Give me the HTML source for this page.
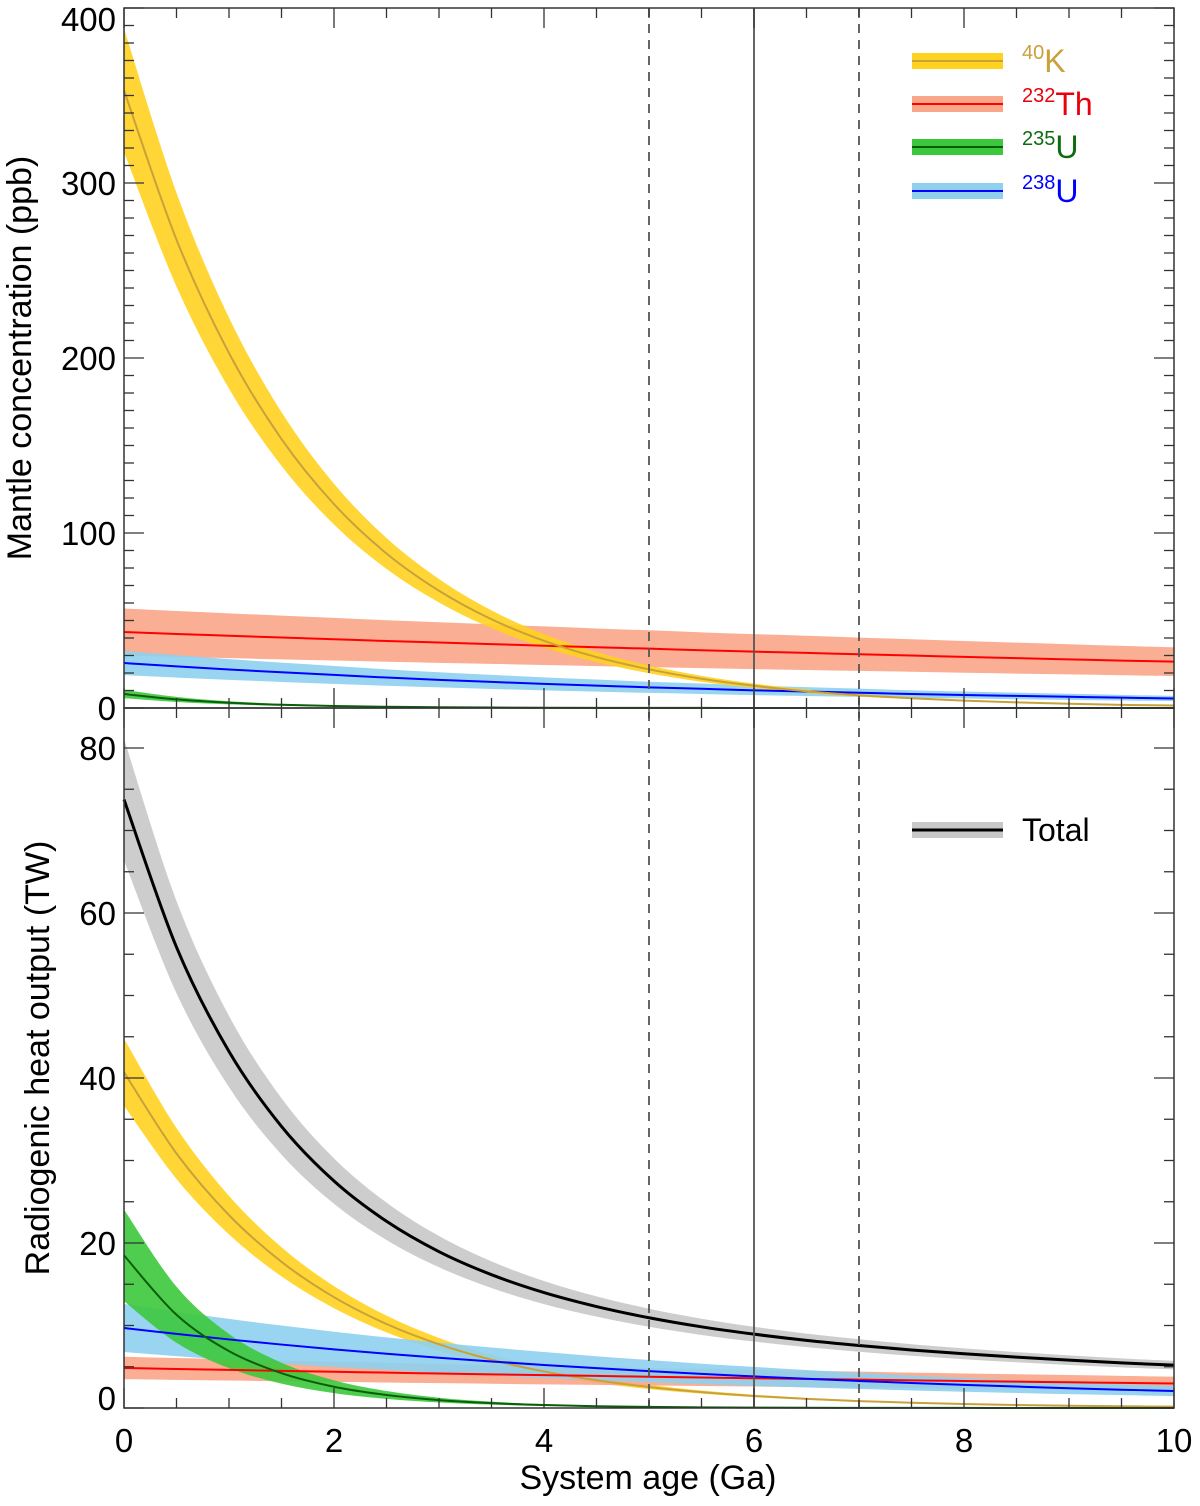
<!DOCTYPE html>
<html><head><meta charset="utf-8"><style>
html,body{margin:0;padding:0;background:#fff;}
svg{display:block;font-family:"Liberation Sans",Arial,sans-serif;}
</style></head><body>
<svg id="chart" width="1200" height="1506" viewBox="0 0 1200 1506" xmlns="http://www.w3.org/2000/svg">
<g id="bands"></g><g id="lines"></g><g id="frame"></g><g id="labels"></g><g id="legend"></g>
</svg>
<script>
// ---- data ----
const ages = [0,0.5,1,1.5,2,2.5,3,3.5,4,4.5,5,5.5,6,6.5,7,7.5,8,8.5,9,9.5,10];
// top panel: mantle concentration (ppb)
const concK40  = [353,267.6,202.8,153.7,116.5,88.3,67.0,50.7,38.4,29.1,22.1,16.7,12.7,9.6,7.3,5.6,4.2,3.2,2.4,1.8,1.4];
const concTh232= [43.4,42.3,41.3,40.3,39.3,38.3,37.4,36.5,35.6,34.7,33.9,33.0,32.2,31.5,30.7,30.0,29.2,28.5,27.8,27.1,26.5];
const concU235 = [8,4.9,2.99,1.83,1.12,0.68,0.42,0.25,0.16,0.1,0.06,0.04,0.02,0.01,0.01,0,0,0,0,0,0];
const concU238 = [25.7,23.8,22.0,20.4,18.9,17.4,16.1,14.9,13.8,12.8,11.8,11.0,10.1,9.4,8.7,8.0,7.4,6.9,6.4,5.9,5.45];
// bottom panel: radiogenic heat (TW)
const heatK40  = [40.7,30.85,23.38,17.72,13.43,10.18,7.72,5.85,4.43,3.36,2.55,1.93,1.46,1.11,0.84,0.64,0.48,0.37,0.28,0.21,0.16];
const heatTh232= [4.85,4.73,4.62,4.50,4.39,4.29,4.18,4.08,3.98,3.89,3.79,3.70,3.61,3.52,3.44,3.35,3.27,3.19,3.12,3.04,2.97];
const heatU235 = [18.5,11.3,6.9,4.22,2.58,1.58,0.96,0.59,0.36,0.22,0.13,0.08,0.05,0.03,0.02,0.01,0.01,0,0,0,0];
const heatU238 = [9.7,8.98,8.31,7.69,7.11,6.58,6.09,5.64,5.22,4.83,4.47,4.13,3.83,3.54,3.28,3.03,2.81,2.60,2.40,2.22,2.06];
const heatTotal= [73.75,55.86,43.21,34.13,27.51,22.63,18.95,16.16,13.99,12.3,10.94,9.84,8.95,8.2,7.58,7.03,6.57,6.16,5.8,5.47,5.19];
// relative uncertainty half-widths
const uncTop = [0.10,0.31,0.30,0.27];      // K, Th, U235, U238
const uncBot = [0.10,0.28,0.30,0.30,0.10]; // K, Th, U235, U238, Total
const xTicks = [0,2,4,6,8,10];
const yTicksTop = [0,100,200,300,400];
const yTicksBot = [0,20,40,60,80];
const refAges = [5,6,7];

// ---- axes ----
const X0=124,X1=1174,TOP0=8,TOP1=708,BOT0=708,BOT1=1408;
const xs = v => X0 + (v-0)/(10-0)*(X1-X0);
const yTop = v => TOP1 - v/400*(TOP1-TOP0);
const yBot = v => BOT1 - v/84.8485*(BOT1-BOT0);
const NS='http://www.w3.org/2000/svg';
function mk(tag, parent){const e=document.createElementNS(NS,tag);document.getElementById(parent).appendChild(e);return e;}
function smooth(pts){
  let d='M'+pts[0][0].toFixed(2)+','+pts[0][1].toFixed(2);
  for(let i=0;i<pts.length-1;i++){
    const p0=pts[Math.max(i-1,0)],p1=pts[i],p2=pts[i+1],p3=pts[Math.min(i+2,pts.length-1)];
    const c1=[p1[0]+(p2[0]-p0[0])/6,p1[1]+(p2[1]-p0[1])/6];
    const c2=[p2[0]-(p3[0]-p1[0])/6,p2[1]-(p3[1]-p1[1])/6];
    d+=' C'+c1.map(n=>n.toFixed(2)).join(',')+' '+c2.map(n=>n.toFixed(2)).join(',')+' '+p2[0].toFixed(2)+','+p2[1].toFixed(2);
  }
  return d;
}
function series(vals, unc, ys, fill, stroke, sw, name){
  const hi = ages.map((a,i)=>[xs(a),ys(vals[i]*(1+unc))]);
  const lo = ages.map((a,i)=>[xs(a),ys(vals[i]*(1-unc))]).reverse();
  const band = mk('path','bands');
  band.setAttribute('d', smooth(hi)+' L'+smooth(lo).slice(1)+' Z');
  band.setAttribute('fill', fill);
  band.setAttribute('fill-opacity','0.9');
  
  
  const line = mk('path','lines');
  line.setAttribute('d', smooth(ages.map((a,i)=>[xs(a),ys(vals[i])])));
  line.setAttribute('fill','none');
  line.setAttribute('stroke',stroke);
  line.setAttribute('stroke-width',sw);
  
  
}
const cK='#FFD21F',lK='#C9A13A',cTh='#F9A587',lTh='#FF0000',cU5='#3CC83C',lU5='#0A5E0A',cU8='#8ED0EE',lU8='#0000FF',cT='#C8C8C8';
series(concTh232,uncTop[1],yTop,cTh,lTh,2,'top-th232');
series(concU238,uncTop[3],yTop,cU8,lU8,2,'top-u238');
series(concU235,uncTop[2],yTop,cU5,lU5,2,'top-u235');
series(concK40,uncTop[0],yTop,cK,lK,2,'top-k40');
series(heatTotal,uncBot[4],yBot,cT,'#000',3,'bottom-total');
series(heatK40,uncBot[0],yBot,cK,lK,2,'bottom-k40');
series(heatTh232,uncBot[1],yBot,cTh,lTh,2,'bottom-th232');
series(heatU238,uncBot[3],yBot,cU8,lU8,2,'bottom-u238');
series(heatU235,uncBot[2],yBot,cU5,lU5,2,'bottom-u235');

refAges.forEach(a=>{
  const l=mk('line','frame');
  l.setAttribute('x1',xs(a));l.setAttribute('x2',xs(a));l.setAttribute('y1',TOP0);l.setAttribute('y2',BOT1);
  l.setAttribute('stroke','#555');l.setAttribute('stroke-width',1.8);
  if(a!==6) l.setAttribute('stroke-dasharray','9,7');
  
  
});
[[TOP0,TOP1,'top'],[BOT0,BOT1,'bottom']].forEach(([y0,y1,n])=>{
  const r=mk('rect','frame');
  r.setAttribute('x',X0);r.setAttribute('y',y0);r.setAttribute('width',X1-X0);r.setAttribute('height',y1-y0);
  r.setAttribute('fill','none');r.setAttribute('stroke','#333');r.setAttribute('stroke-width',1.5);
  
  
});
function tick(x1,y1,x2,y2){const t=mk('line','frame');t.setAttribute('x1',x1);t.setAttribute('y1',y1);t.setAttribute('x2',x2);t.setAttribute('y2',y2);t.setAttribute('stroke','#333');t.setAttribute('stroke-width',1.3);

}
for(let v=0;v<=10.001;v+=0.5){
  const len = (Math.abs(v/2-Math.round(v/2))<1e-6)?20:10;
  const x=xs(v);
  [TOP0,BOT0].forEach(y=>tick(x,y,x,y+len));
  [TOP1,BOT1].forEach(y=>tick(x,y,x,y-len));
}
for(let v=0;v<=400;v+=10){const len=v%100===0?20:10;const y=yTop(v);tick(X0,y,X0+len,y);tick(X1,y,X1-len,y);}
for(let v=0;v<=80;v+=5){const len=v%20===0?20:10;const y=yBot(v);tick(X0,y,X0+len,y);tick(X1,y,X1-len,y);}

function text(str,x,y,opts,name){
  const t=mk('text','labels');
  t.textContent=str;t.setAttribute('x',x);t.setAttribute('y',y);
  t.setAttribute('font-size',opts.size||33);t.setAttribute('text-anchor',opts.anchor||'middle');
  t.setAttribute('fill',opts.fill||'#000');
  if(opts.transform) t.setAttribute('transform',opts.transform);
  
  
  return t;
}
xTicks.forEach(v=>text(String(v),xs(v),1452,{},'x-tick-label-'+v));
yTicksTop.forEach(v=>text(String(v),116,Math.max(yTop(v),19)+12,{anchor:'end'},'top-y-tick-label-'+v));
yTicksBot.forEach(v=>text(String(v),116,Math.min(yBot(v),1398)+12,{anchor:'end'},'bottom-y-tick-label-'+v));
text('System age (Ga)',648,1489,{size:34},'x-axis-title');
text('Mantle concentration (ppb)',31,358,{size:34,transform:'rotate(-90 31 358)'},'top-y-axis-title');
text('Radiogenic heat output (TW)',49,1058,{size:34,transform:'rotate(-90 49 1058)'},'bottom-y-axis-title');

const legItems=[['40','K',cK,lK,'#C9A13A',61,'k40'],['232','Th',cTh,lTh,'#E8000B',104,'th232'],['235','U',cU5,lU5,'#0E6B0E',147,'u235'],['238','U',cU8,lU8,'#0000FF',191,'u238'],['','Total',cT,'#000','#000',830,'total']];
legItems.forEach(([sup,lab,f,l,tc,y,n])=>{
  const g=mk('g','legend');
  
  
  const r=document.createElementNS(NS,'rect');r.setAttribute('x',912);r.setAttribute('y',y-8);r.setAttribute('width',91);r.setAttribute('height',16);r.setAttribute('fill',f);g.appendChild(r);
  const ln=document.createElementNS(NS,'line');ln.setAttribute('x1',912);ln.setAttribute('x2',1003);ln.setAttribute('y1',y);ln.setAttribute('y2',y);ln.setAttribute('stroke',l);ln.setAttribute('stroke-width',n==='total'?3:2);g.appendChild(ln);
  const t=document.createElementNS(NS,'text');t.setAttribute('x',1022);t.setAttribute('y',y+11);t.setAttribute('fill',tc);t.setAttribute('font-size',32);
  if(sup){const s=document.createElementNS(NS,'tspan');s.textContent=sup;s.setAttribute('font-size',20);s.setAttribute('dy',-13);t.appendChild(s);
    const m=document.createElementNS(NS,'tspan');m.textContent=lab;m.setAttribute('dy',13);t.appendChild(m);}
  else t.textContent=lab;
  g.appendChild(t);
});
</script>
</body></html>
